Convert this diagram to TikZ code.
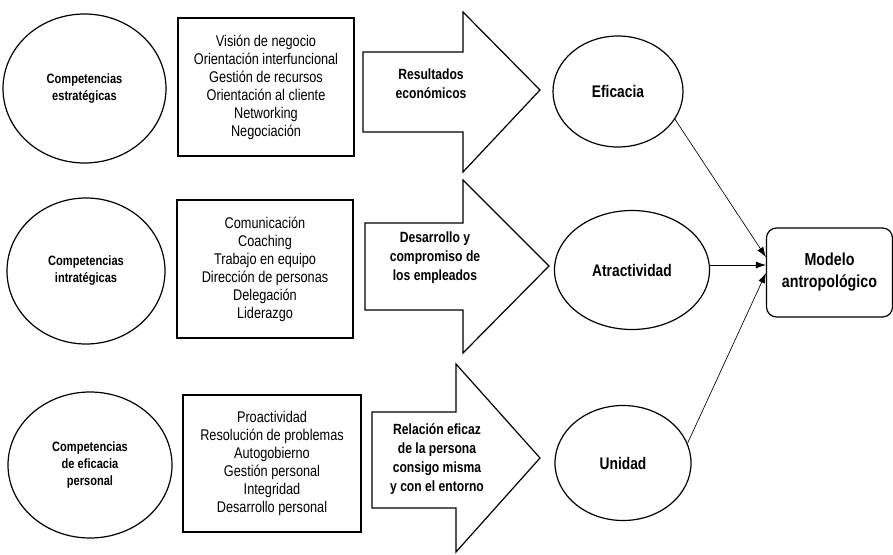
\documentclass[tikz,border=0pt]{standalone}
\usepackage{fontspec}
\setmainfont{Liberation Sans}[FakeStretch=0.82]
\usetikzlibrary{shapes.geometric,arrows.meta,positioning}

\tikzset{
  comp/.style = {ellipse, draw, line width=1.2pt, inner sep=0pt, align=center,
    font=\bfseries\fontsize{13.5}{17}\selectfont},
  lista/.style = {rectangle, draw, line width=1.2pt, inner sep=0pt, align=center,
    font=\fontsize{15.5}{18}\selectfont},
  txtflecha/.style = {align=center, font=\bfseries\fontsize{14.8}{19}\selectfont},
  resul/.style = {ellipse, draw, line width=1.2pt, inner sep=0pt,
    font=\bfseries\fontsize{16.8}{20}\selectfont},
  modelo/.style = {rectangle, draw, rounded corners=10pt, line width=1.2pt, align=center,
    font=\bfseries\fontsize{17.4}{22}\selectfont},
  flechagr/.style = {draw, line width=1.2pt, line join=miter},
  conector/.style = {line width=0.65pt, -{Latex[length=10pt,width=7pt]}},
}

\begin{document}
\begin{tikzpicture}[x=1pt, y=-1pt]
    \useasboundingbox (0,0) rectangle (893,554);
    \node[comp, minimum width=163pt, minimum height=149pt] (ce) at (84.5,88.5) {Competencias\\estratégicas};
    \node[comp, minimum width=158pt, minimum height=146pt] (ci) at (86,271) {Competencias\\intratégicas};
    \node[comp, minimum width=164pt, minimum height=146pt] (cp) at (90,465) {Competencias\\de eficacia\\personal};

    \node[lista, minimum width=176pt, minimum height=138pt] (le) at (266,87)
      {Visión de negocio\\Orientación interfuncional\\Gestión de recursos\\Orientación al cliente\\Networking\\Negociación};
    \node[lista, minimum width=176pt, minimum height=138pt] (li) at (265,269)
      {Comunicación\\Coaching\\Trabajo en equipo\\Dirección de personas\\Delegación\\Liderazgo};
    \node[lista, minimum width=178pt, minimum height=137pt] (lp) at (272,463.5)
      {Proactividad\\Resolución de problemas\\Autogobierno\\Gestión personal\\Integridad\\Desarrollo personal};

    \draw[flechagr] (363,52) -- (463,52) -- (463,12) -- (540,90) -- (463,172) -- (463,132) -- (363,132) -- cycle;
    \draw[flechagr] (365,223) -- (463,223) -- (463,180) -- (549,266) -- (463,353) -- (463,310) -- (365,310) -- cycle;
    \draw[flechagr] (372,412) -- (456,412) -- (456,364) -- (540,458) -- (456,552) -- (456,508) -- (372,508) -- cycle;
    \node[txtflecha] (te) at (431,84) {Resultados\\económicos};
    \node[txtflecha] (ti) at (435,258) {Desarrollo y\\compromiso de\\los empleados};
    \node[txtflecha] (tp) at (437,459) {Relación eficaz\\de la persona\\consigo misma\\y con el entorno};

    \node[resul, minimum width=130pt, minimum height=111pt] (ef) at (618,91.5) {Eficacia};
    \node[resul, minimum width=155pt, minimum height=119pt] (atr) at (632,270) {Atractividad};
    \node[resul, minimum width=136pt, minimum height=115pt] (un) at (623,463) {Unidad};

    \node[modelo, minimum width=126pt, minimum height=89pt] (mod) at (829.5,272.5) {Modelo\\antropológico};
    \coordinate (m1) at ([yshift=15.5pt]mod.west);
    \coordinate (m2) at ([yshift=7.5pt]mod.west);
    \coordinate (m3) at ([yshift=-0.5pt]mod.west);

    \draw[conector] (ef.-26) -- (m1);
    \draw[conector] (atr.east |- m2) -- (m2);
    \draw[conector] (un.17) -- (m3);
\end{tikzpicture}
\end{document}
